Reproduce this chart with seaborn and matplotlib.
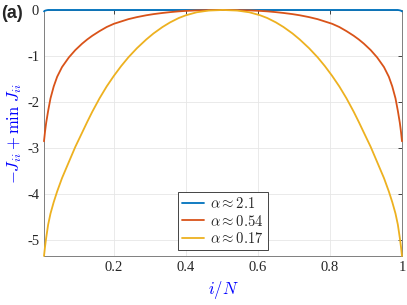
import numpy as np
import pandas as pd
import matplotlib
matplotlib.use('Agg')
import matplotlib.pyplot as plt
import seaborn as sns

# values (x = i/N)
x_vals = [0.006, 0.009, 0.012, 0.0175, 0.024, 0.033, 0.0425, 0.056, 0.075, 0.093,
          0.112, 0.126, 0.14, 0.16, 0.18, 0.2, 0.22, 0.24, 0.264, 0.29,
          0.31, 0.335, 0.356, 0.38, 0.40, 0.43, 0.463, 0.503,
          0.543, 0.576, 0.606, 0.626, 0.65, 0.671, 0.696, 0.716, 0.742, 0.766,
          0.786, 0.806, 0.826, 0.846, 0.866, 0.88, 0.894, 0.913, 0.931, 0.95,
          0.9635, 0.973, 0.982, 0.9885, 0.994, 0.997, 1.0]

y_21 = [-0.03, -0.015, -0.008, 0, 0, 0, 0, 0, 0, 0,
        0, 0, 0, 0, 0, 0, 0, 0, 0, 0,
        0, 0, 0, 0, 0, 0, 0, 0,
        0, 0, 0, 0, 0, 0, 0, 0, 0, 0,
        0, 0, 0, 0, 0, 0, 0, 0, 0, 0,
        0, 0, 0, 0, -0.008, -0.015, -0.03]

y_054 = [-2.85, -2.63, -2.45, -2.19, -1.92, -1.66, -1.45, -1.24, -1.03, -0.87,
         -0.73, -0.64, -0.56, -0.46, -0.37, -0.30, -0.25, -0.20, -0.155, -0.115,
         -0.09, -0.065, -0.047, -0.03, -0.02, -0.009, -0.003, 0,
         -0.003, -0.009, -0.02, -0.03, -0.047, -0.065, -0.09, -0.115, -0.155, -0.20,
         -0.25, -0.30, -0.37, -0.46, -0.56, -0.64, -0.73, -0.87, -1.03, -1.24,
         -1.45, -1.66, -1.92, -2.19, -2.45, -2.63, -2.85]

y_017 = [-5.34, -5.13, -4.95, -4.66, -4.42, -4.17, -3.94, -3.65, -3.30, -2.97,
         -2.66, -2.43, -2.21, -1.92, -1.66, -1.43, -1.22, -1.03, -0.83, -0.64,
         -0.51, -0.37, -0.27, -0.175, -0.115, -0.05, -0.013, 0,
         -0.013, -0.05, -0.115, -0.175, -0.27, -0.37, -0.51, -0.64, -0.83, -1.03,
         -1.22, -1.43, -1.66, -1.92, -2.21, -2.43, -2.66, -2.97, -3.30, -3.65,
         -3.94, -4.17, -4.42, -4.66, -4.95, -5.13, -5.34]

labels = [r'$\alpha \approx 2.1$', r'$\alpha \approx 0.54$', r'$\alpha \approx 0.17$']
colors = ['#0072BD', '#D95319', '#EDB120']

df = pd.concat([
    pd.DataFrame({'x': x_vals, 'y': y_21, 'curve': labels[0]}),
    pd.DataFrame({'x': x_vals, 'y': y_054, 'curve': labels[1]}),
    pd.DataFrame({'x': x_vals, 'y': y_017, 'curve': labels[2]}),
])

sns.set_style('white')
plt.rcParams['font.family'] = ['Liberation Serif', 'DejaVu Serif']
plt.rcParams['mathtext.fontset'] = 'cm'
plt.rcParams['xtick.direction'] = 'in'
plt.rcParams['ytick.direction'] = 'in'

fig = plt.figure(figsize=(4.07, 3.05), dpi=100)
ax = fig.add_axes([0.1081, 0.1607, 0.8796, 0.8066])

sns.lineplot(data=df, x='x', y='y', hue='curve', palette=colors, sort=False,
             linewidth=1.3, ax=ax)
for ln in ax.get_lines():
    ln.set_clip_on(False)
    ln.set_zorder(3)

ax.set_xlim(0.006, 1)
ax.set_ylim(-5.34, 0)
ax.set_xticks([0.2, 0.4, 0.6, 0.8, 1])
ax.set_xticklabels(['0.2', '0.4', '0.6', '0.8', '1'])
ax.set_yticks([0, -1, -2, -3, -4, -5])
ax.set_yticklabels(['0', '-1', '-2', '-3', '-4', '-5'])
ax.tick_params(labelsize=10.5, colors='#262626', length=3, width=0.6,
               top=True, right=True)
ax.grid(True, color='#e6e6e6', linewidth=0.6)
for s in ax.spines.values():
    s.set_color('#7f7f7f')
    s.set_linewidth(0.7)

ax.set_xlabel(r'$i/N$', color='blue', fontsize=12, labelpad=4)
ax.set_ylabel(r'$-J_{ii} + \min\ J_{ii}$', color='blue', fontsize=12, labelpad=2)

leg = ax.legend(loc='lower center', bbox_to_anchor=(0.5, 0.024), borderaxespad=0,
                fancybox=False, framealpha=1, edgecolor='#262626', fontsize=10.5,
                handlelength=1.5, handletextpad=0.4, labelspacing=0.15,
                borderpad=0.3)
leg.get_frame().set_linewidth(0.6)
leg.set_zorder(5)

fig.text(0.003, 0.985, '(a)', fontsize=13, fontweight='bold',
         family='Liberation Sans', va='top', ha='left')

fig.savefig('out.png', dpi=100)
